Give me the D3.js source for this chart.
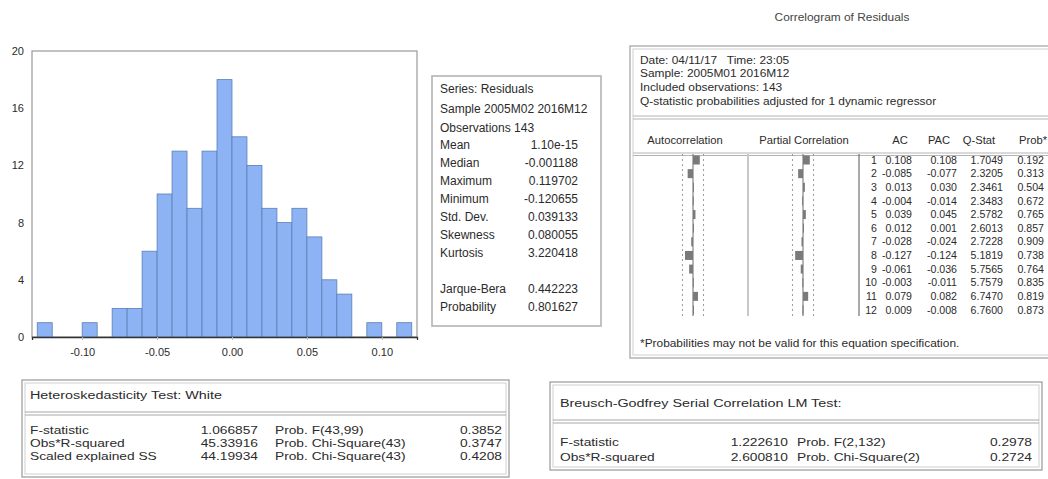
<!DOCTYPE html>
<html>
<head>
<meta charset="utf-8">
<script src="https://cdn.jsdelivr.net/npm/d3@7"></script>
<style>
  body { margin: 0; background: #fff; }
  svg { display: block; }
  text { font-family: "Liberation Sans", Arial, sans-serif; fill: #2b2b2b; white-space: pre; }
</style>
</head>
<body>
<svg id="chart" width="1048" height="479"></svg>
<script>
// ---- Histogram of residuals (bin lower edges and counts) ----
const binStarts = [-0.13, -0.12, -0.11, -0.10, -0.09, -0.08, -0.07, -0.06, -0.05, -0.04, -0.03, -0.02, -0.01,
                   0.00, 0.01, 0.02, 0.03, 0.04, 0.05, 0.06, 0.07, 0.08, 0.09, 0.10, 0.11];
const binCounts = [1, 0, 0, 1, 0, 2, 2, 6, 10, 13, 9, 13, 18, 14, 12, 9, 8, 9, 7, 4, 3, 0, 1, 0, 1];
const binWidth = 0.01;
const xTicks = [-0.10, -0.05, 0.00, 0.05, 0.10];
const yTicks = [0, 4, 8, 12, 16, 20];

// ---- Descriptive statistics ----
const seriesHeader = ["Series: Residuals", "Sample 2005M02 2016M12", "Observations 143"];
const statLabels = ["Mean", "Median", "Maximum", "Minimum", "Std. Dev.", "Skewness", "Kurtosis"];
const statValues = ["1.10e-15", "-0.001188", "0.119702", "-0.120655", "0.039133", "0.080055", "3.220418"];
const jbLabels = ["Jarque-Bera", "Probability"];
const jbValues = ["0.442223", "0.801627"];

// ---- Correlogram of residuals ----
const corrHeader = ["Date: 04/11/17   Time: 23:05", "Sample: 2005M01 2016M12", "Included observations: 143",
                    "Q-statistic probabilities adjusted for 1 dynamic regressor"];
const lags = [1, 2, 3, 4, 5, 6, 7, 8, 9, 10, 11, 12];
const acValues = [0.108, -0.085, 0.013, -0.004, 0.039, 0.012, -0.028, -0.127, -0.061, -0.003, 0.079, 0.009];
const pacValues = [0.108, -0.077, 0.030, -0.014, 0.045, 0.001, -0.024, -0.124, -0.036, -0.011, 0.082, -0.008];
const qStats = [1.7049, 2.3205, 2.3461, 2.3483, 2.5782, 2.6013, 2.7228, 5.1819, 5.7565, 5.7579, 6.7470, 6.7600];
const qProbs = [0.192, 0.313, 0.504, 0.672, 0.765, 0.857, 0.909, 0.738, 0.764, 0.835, 0.819, 0.873];
const nObs = 143;

// ---- Residual diagnostic tests ----
const whiteLabels = ["F-statistic", "Obs*R-squared", "Scaled explained SS"];
const whiteStats = ["1.066857", "45.33916", "44.19934"];
const whiteProbLabels = ["Prob. F(43,99)", "Prob. Chi-Square(43)", "Prob. Chi-Square(43)"];
const whiteProbs = ["0.3852", "0.3747", "0.4208"];
const bgLabels = ["F-statistic", "Obs*R-squared"];
const bgStats = ["1.222610", "2.600810"];
const bgProbLabels = ["Prob. F(2,132)", "Prob. Chi-Square(2)"];
const bgProbs = ["0.2978", "0.2724"];

const svg = d3.select("#chart");

// Horizontally stretched text helper (table print-outs)
function stext(g, x, y, str, opts = {}) {
  return g.append("text")
    .attr("transform", `translate(${x},${y}) scale(${opts.sx || 1},1)`)
    .attr("text-anchor", opts.anchor || "start")
    .style("font-size", (opts.size || 11) + "px")
    .text(str);
}

// ================= Histogram =================
const hx = d3.scaleLinear().domain([-0.1335, 0.1235]).range([32, 417]);
const hy = d3.scaleLinear().domain([0, 20]).range([337, 51]);
const hist = svg.append("g");

hist.append("rect")
  .attr("x", hx.range()[0]).attr("y", hy(20))
  .attr("width", hx.range()[1] - hx.range()[0]).attr("height", hy(0) - hy(20))
  .attr("fill", "none").attr("stroke", "#9a9a9a").attr("stroke-width", 1.2);

hist.selectAll("rect.bar")
  .data(binStarts.map((s, i) => ({ s, c: binCounts[i] })).filter(d => d.c > 0))
  .join("rect").attr("class", "bar")
  .attr("x", d => hx(d.s))
  .attr("y", d => hy(d.c))
  .attr("width", d => hx(d.s + binWidth) - hx(d.s))
  .attr("height", d => hy(0) - hy(d.c))
  .attr("fill", "#8db3f4")
  .attr("stroke", "#5a7fb5")
  .attr("stroke-width", 0.8);

const xAxis = hist.append("g").attr("transform", `translate(0,${hy(0)})`)
  .call(d3.axisBottom(hx).tickValues(xTicks).tickFormat(d => d.toFixed(2)).tickSize(3).tickPadding(8));
xAxis.select(".domain").attr("stroke", "#333").attr("stroke-width", 1.3);
xAxis.selectAll(".tick line").attr("stroke", "#bbb");
xAxis.selectAll("text").style("font-size", "11px").attr("fill", "#333");

const yAxis = hist.append("g").attr("transform", `translate(${hx.range()[0]},0)`)
  .call(d3.axisLeft(hy).tickValues(yTicks).tickSize(0).tickPadding(8));
yAxis.select(".domain").remove();
yAxis.selectAll("text").style("font-size", "11px").attr("fill", "#333");

// ================= Statistics box =================
const stats = svg.append("g");
stats.append("rect").attr("x", 432).attr("y", 76).attr("width", 169).attr("height", 250)
  .attr("fill", "none").attr("stroke", "#b3b3b3").attr("stroke-width", 1.6);
seriesHeader.forEach((t, i) => stext(stats, 440, 93 + i * 19.5, t, { size: 12 }));
statLabels.forEach((t, i) => {
  stext(stats, 440, 149 + i * 18, t, { size: 12 });
  stext(stats, 578, 149 + i * 18, statValues[i], { size: 12, anchor: "end" });
});
jbLabels.forEach((t, i) => {
  stext(stats, 440, 293 + i * 18, t, { size: 12 });
  stext(stats, 578, 293 + i * 18, jbValues[i], { size: 12, anchor: "end" });
});

// ================= Correlogram =================
const cg = svg.append("g");
const CSX = 1.19;
stext(cg, 842, 21, "Correlogram of Residuals", { size: 10, anchor: "middle", sx: CSX }).style("fill", "#444");

cg.append("rect").attr("x", 630).attr("y", 46).attr("width", 440).attr("height", 312)
  .attr("fill", "none").attr("stroke", "#a8a8a8").attr("stroke-width", 1.3);
cg.append("rect").attr("x", 633).attr("y", 49).attr("width", 440).attr("height", 306)
  .attr("fill", "none").attr("stroke", "#cfcfcf").attr("stroke-width", 1);

corrHeader.forEach((t, i) => stext(cg, 640, 63.5 + i * 13.8, t, { size: 10, sx: CSX }));

[116, 119, 153, 155.5].forEach(y => cg.append("line")
  .attr("x1", 633).attr("x2", 1048).attr("y1", y).attr("y2", y)
  .attr("stroke", "#b5b5b5").attr("stroke-width", 1));

const colHeads = [["Autocorrelation", 685], ["Partial Correlation", 804], ["AC", 900], ["PAC", 939], ["Q-Stat", 979], ["Prob*", 1033]];
colHeads.forEach(([t, x]) => stext(cg, x, 143.5, t, { size: 10, anchor: "middle", sx: 1.12 }));

const rowY = d3.scaleLinear().domain([1, 12]).range([160, 310]);
const rowH = 9;
const se2 = 2 / Math.sqrt(nObs);

function corrPanel(center, values) {
  const cx = d3.scaleLinear().domain([-1, 1]).range([center - 63, center + 63]);
  const top = rowY(1) - 6, bot = rowY(12) + 6;
  [-se2, se2].forEach(b => cg.append("line")
    .attr("x1", cx(b)).attr("x2", cx(b)).attr("y1", top).attr("y2", bot)
    .attr("stroke", "#9a9a9a").attr("stroke-width", 1).attr("stroke-dasharray", "2,3"));
  cg.append("line").attr("x1", cx(0)).attr("x2", cx(0)).attr("y1", top).attr("y2", bot)
    .attr("stroke", "#6a6a6a").attr("stroke-width", 1);
  cg.selectAll(null).data(values).join("rect")
    .attr("x", d => Math.min(cx(0), cx(d)))
    .attr("y", (d, i) => rowY(lags[i]) - rowH / 2)
    .attr("width", d => Math.max(1, Math.abs(cx(d) - cx(0))))
    .attr("height", rowH)
    .attr("fill", "#7a7a7a");
}
corrPanel(693, acValues);
corrPanel(803, pacValues);

cg.append("line").attr("x1", 748).attr("x2", 748).attr("y1", rowY(1) - 6).attr("y2", rowY(12) + 6)
  .attr("stroke", "#c8c8c8").attr("stroke-width", 2);
cg.append("line").attr("x1", 859).attr("x2", 859).attr("y1", rowY(1) - 6).attr("y2", rowY(12) + 6)
  .attr("stroke", "#555").attr("stroke-width", 1);

const f3 = d => d.toFixed(3), f4 = d => d.toFixed(4);
lags.forEach((lag, i) => {
  const y = rowY(lag) + 3.6;
  const o = { size: 10, anchor: "end", sx: 1.06 };
  stext(cg, 877, y, String(lag), o);
  stext(cg, 912, y, f3(acValues[i]), o);
  stext(cg, 957, y, f3(pacValues[i]), o);
  stext(cg, 1003, y, f4(qStats[i]), o);
  stext(cg, 1044, y, f3(qProbs[i]), o);
});
stext(cg, 640, 346.5, "*Probabilities may not be valid for this equation specification.", { size: 10, sx: CSX });

// ================= Test tables =================
function testTable(x0, y0, x1, y1, title, titleY, sepY, rowYs, labels, vals, plabels, pvals, cols) {
  const g = svg.append("g");
  const SX = 1.25;
  g.append("rect").attr("x", x0).attr("y", y0).attr("width", x1 - x0).attr("height", y1 - y0)
    .attr("fill", "none").attr("stroke", "#a0a0a0").attr("stroke-width", 1.3);
  g.append("rect").attr("x", x0 + 3).attr("y", y0 + 3).attr("width", x1 - x0 - 6).attr("height", y1 - y0 - 6)
    .attr("fill", "none").attr("stroke", "#cfcfcf").attr("stroke-width", 1);
  [sepY, sepY + 3].forEach(y => g.append("line").attr("x1", x0 + 3).attr("x2", x1 - 3)
    .attr("y1", y).attr("y2", y).attr("stroke", "#a8a8a8").attr("stroke-width", 1));
  stext(g, cols[0], titleY + 4, title, { size: 11.5, sx: SX });
  labels.forEach((t, i) => {
    const y = rowYs[i] + 4;
    stext(g, cols[0], y, t, { size: 11, sx: SX });
    stext(g, cols[1], y, vals[i], { size: 11, sx: SX, anchor: "end" });
    stext(g, cols[2], y, plabels[i], { size: 11, sx: SX });
    stext(g, cols[3], y, pvals[i], { size: 11, sx: SX, anchor: "end" });
  });
}
testTable(22, 380, 509, 477, "Heteroskedasticity Test: White", 395, 412, [430, 443, 456],
  whiteLabels, whiteStats, whiteProbLabels, whiteProbs, [30, 258, 275, 502]);
testTable(550, 382, 1042, 470, "Breusch-Godfrey Serial Correlation LM Test:", 403, 420, [442, 457],
  bgLabels, bgStats, bgProbLabels, bgProbs, [560, 788, 797, 1032]);
</script>
</body>
</html>
